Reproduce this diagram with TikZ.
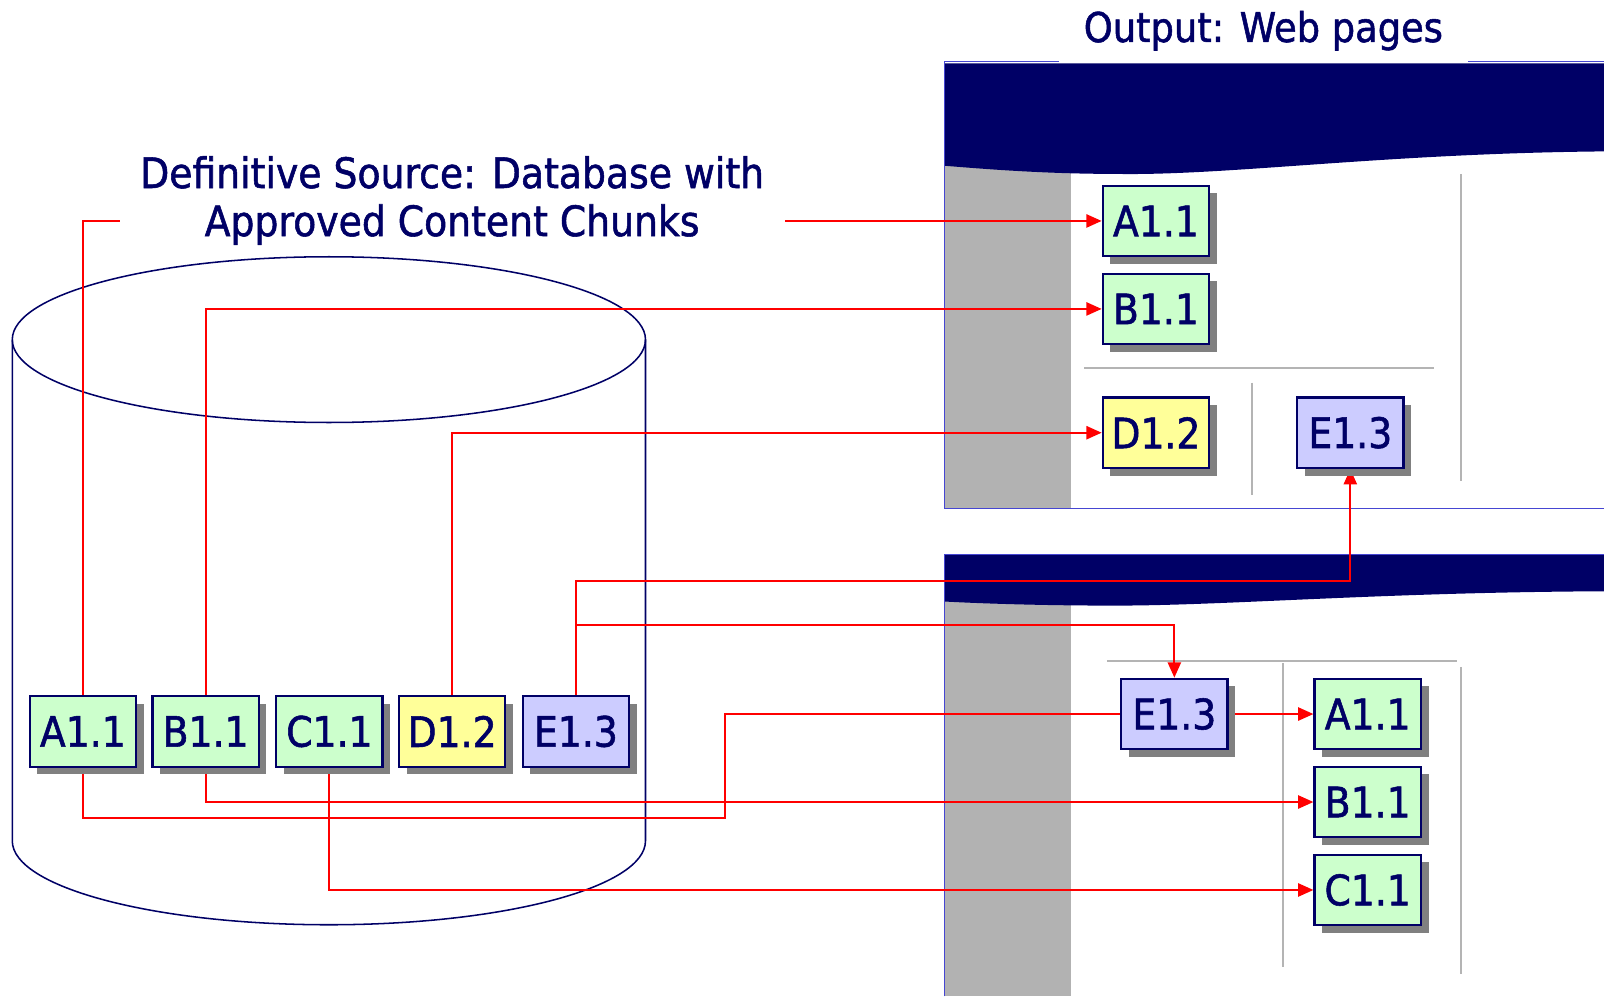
\documentclass[tikz,border=0pt]{standalone}
\usepackage{fontspec}
\setmainfont{DejaVu Sans}[FakeStretch=0.9, FakeBold=1.3]
\usetikzlibrary{arrows.meta,shadows}
\definecolor{navy}{RGB}{0,0,102}
\definecolor{chunkgreen}{RGB}{204,255,204}
\definecolor{chunkyellow}{RGB}{255,255,153}
\definecolor{chunkblue}{RGB}{204,204,255}
\definecolor{shadowgray}{RGB}{128,128,128}
\definecolor{colgray}{RGB}{178,178,178}
\definecolor{linegray}{RGB}{180,180,180}
\definecolor{frameblue}{RGB}{70,70,210}
\pgfdeclarelayer{bg}
\pgfdeclarelayer{lines}
\pgfsetlayers{bg,lines,main}
\begin{document}
\begin{tikzpicture}[x=1pt,y=-1pt,
  chunk/.style={draw=navy, line width=2.2pt, minimum width=104pt, minimum height=69pt, inner sep=0pt,
    text=navy, font=\fontsize{41}{47}\selectfont,
    drop shadow={shadow xshift=7.5pt, shadow yshift=-7.5pt, fill=shadowgray, opacity=1}},
  gchunk/.style={chunk, fill=chunkgreen},
  ychunk/.style={chunk, fill=chunkyellow},
  bchunk/.style={chunk, fill=chunkblue},
  conn/.style={draw=red, line width=1.8pt, -{Triangle[length=15pt,width=13pt]}},
  link/.style={draw=red, line width=1.8pt},
  title/.style={text=navy, font=\fontsize{40}{47}\selectfont, align=center},
  frame/.style={draw=frameblue, line width=1.2pt},
  gline/.style={draw=linegray, line width=2pt},
  cyl/.style={draw=navy, line width=1.5pt}]
\useasboundingbox (0,0) rectangle (1568,974);

% ---------- backgrounds ----------
\begin{pgfonlayer}{bg}
  % cylinder
  \draw[cyl] (321.5,332) ellipse [x radius=309.5pt, y radius=81pt];
  \draw[cyl] (12,332) -- (12,822) arc[start angle=180, end angle=360, x radius=309.5pt, y radius=82pt] -- (631,332);
  % top web page
  \fill[colgray] (923,160) rectangle (1047,497);
  \fill[navy] (923,62) -- (1568,62) -- (1568,148)
     .. controls (1350,150) and (1200,172) .. (1090,170)
     .. controls (1020,170) and (960,165) .. (923,162) -- cycle;
  \draw[frame] (1568,497) -- (923,497) -- (923,60) -- (1035,60);
  \draw[frame] (1435,60) -- (1568,60);
  \draw[gline] (1428,170) -- (1428,470);
  \draw[gline] (1060,360) -- (1402,360);
  \draw[gline] (1224,374) -- (1224,484);
  % bottom web page
  \fill[colgray] (923,585) rectangle (1047,974);
  \fill[navy] (923,542) -- (1568,542) -- (1568,578)
     .. controls (1350,579) and (1200,592) .. (1090,592)
     .. controls (1020,592) and (960,590) .. (923,588) -- cycle;
  \draw[frame] (923,974) -- (923,542) -- (1568,542);
  \draw[gline] (1082,646) -- (1424,646);
  \draw[gline] (1254,648) -- (1254,945);
  \draw[gline] (1428,652) -- (1428,952);
\end{pgfonlayer}

% ---------- titles ----------
\node[title] (outtitle) at (1235,30) {Output: Web pages};
\node[title, font=\fontsize{41}{47}\selectfont, fill=white, inner xsep=20pt, inner ysep=2pt] (srctitle) at (442,196)
  {Definitive Source: Database with\\Approved Content Chunks};

% ---------- chunks in the database ----------
\node[gchunk] (A) at (81,715) {A1.1};
\node[gchunk] (B) at (201,715) {B1.1};
\node[gchunk] (C) at (322,715) {C1.1};
\node[ychunk] (D) at (442,715) {D1.2};
\node[bchunk] (E) at (563,715) {E1.3};

% ---------- chunks on top page ----------
\node[gchunk] (tA) at (1130,216) {A1.1};
\node[gchunk] (tB) at (1130,302) {B1.1};
\node[ychunk] (tD) at (1130,423) {D1.2};
\node[bchunk] (tE) at (1320,423) {E1.3};

% ---------- chunks on bottom page ----------
\node[bchunk] (bE) at (1148,698) {E1.3};
\node[gchunk] (bA) at (1337,698) {A1.1};
\node[gchunk] (bB) at (1337,784) {B1.1};
\node[gchunk] (bC) at (1337,870) {C1.1};

\coordinate (eturn) at (1320,568);
\coordinate (ebranch) at (563,611);
\coordinate (aturn) at (709,800);

% ---------- connectors ----------
\begin{pgfonlayer}{lines}
  \draw[conn] (A.north) |- (tA.west);
  \draw[conn] (B.north) |- (tB.west);
  \draw[conn] (D.north) |- (tD.west);
  \draw[conn] (E.north) |- (eturn) -- (tE.south);
  \draw[conn] (ebranch) -| (bE.north);
  \draw[conn] (A.south) |- (aturn) |- (bA.west);
  \draw[conn] (B.south) |- (bB.west);
  \draw[conn] (C.south) |- (bC.west);
\end{pgfonlayer}
\end{tikzpicture}
\end{document}
